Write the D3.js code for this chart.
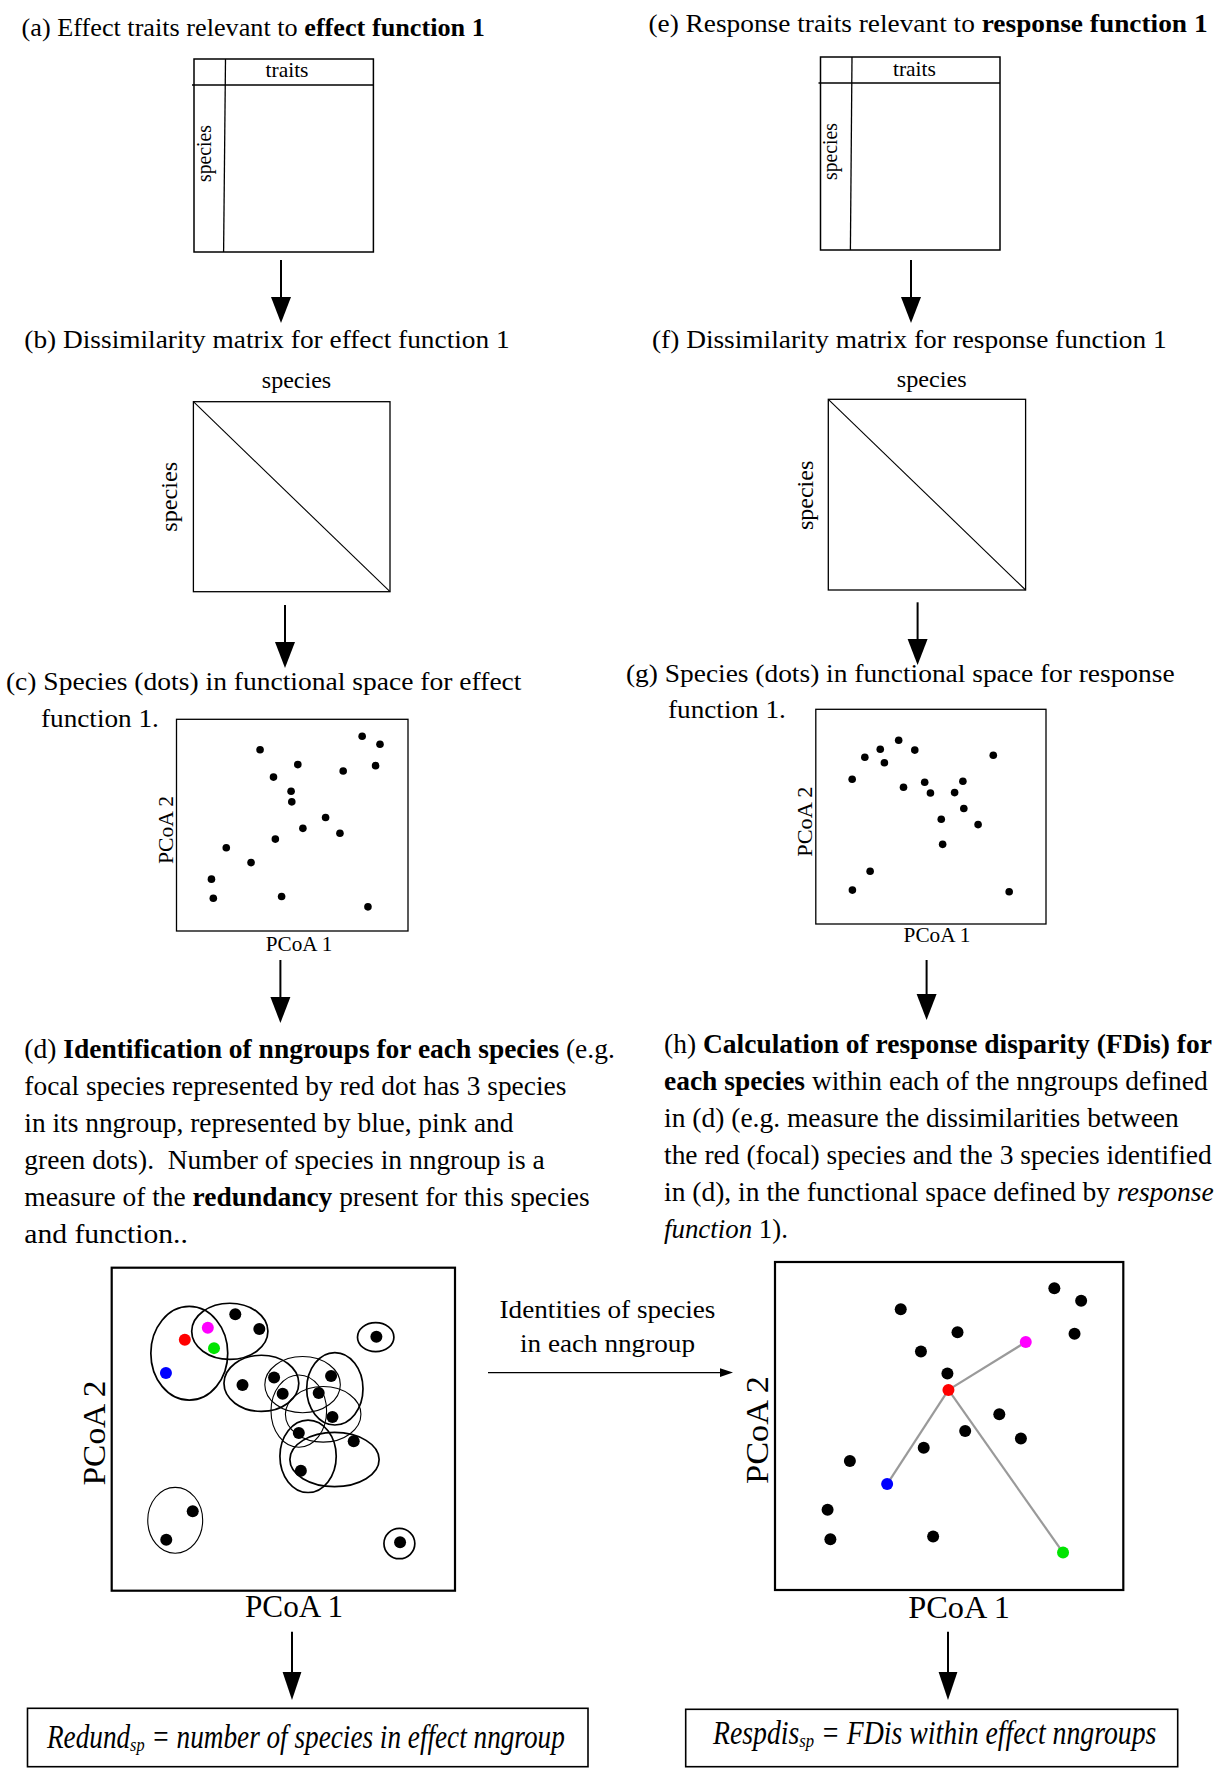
<!DOCTYPE html>
<html>
<head>
<meta charset="utf-8">
<script src="https://cdn.jsdelivr.net/npm/d3@7"></script>
<style>
  html, body { margin: 0; padding: 0; background: #fff; }
  svg { display: block; }
  text { font-family: "Liberation Serif", "Times New Roman", Times, serif; fill: #000; white-space: pre; }
</style>
</head>
<body>
<svg id="fig" width="1231" height="1775"></svg>
<script>
// ---------------------------------------------------------------------------
// Species scores on the first two PCoA axes (19 species, arbitrary 0-10 units)
// Layout A: effect-trait space of panel (c), reused in panel (h)
const pcoaA1 = [3.61, 8.02, 8.79, 5.24, 4.19, 7.20, 8.60, 4.95, 4.98, 6.44, 5.46, 7.06, 4.27, 2.15, 3.22, 1.51, 1.59, 4.54, 8.27];
const pcoaA2 = [8.56, 9.20, 8.82, 7.86, 7.27, 7.56, 7.81, 6.60, 6.10, 5.36, 4.85, 4.62, 4.34, 3.93, 3.23, 2.45, 1.55, 1.63, 1.14];
// Layout B: space of panel (g), reused in panel (d)
const pcoaB1 = [3.60, 2.80, 2.13, 2.98, 4.30, 7.71, 1.58, 3.81, 4.73, 4.98, 6.03, 6.39, 6.43, 5.45, 7.05, 5.51, 2.36, 1.59, 8.40];
const pcoaB2 = [8.56, 8.14, 7.77, 7.51, 8.10, 7.86, 6.74, 6.37, 6.60, 6.10, 6.12, 6.65, 5.38, 4.88, 4.63, 3.71, 2.46, 1.58, 1.50];

// nngroup outlines in (d): centre and semi-axes, in PCoA units
const nnCX = [2.26, 3.44, 7.69, 4.36, 5.56, 6.50, 5.45, 6.16, 5.72, 6.49, 1.85, 8.38];
const nnCY = [7.35, 8.03, 7.85, 6.42, 6.38, 6.25, 5.56, 5.46, 4.16, 4.06, 2.18, 1.46];
const nnRX = [1.12, 1.11, 0.53, 1.09, 1.10, 0.82, 0.81, 1.10, 0.82, 1.30, 0.80, 0.45];
const nnRY = [1.45, 0.87, 0.45, 0.87, 0.87, 1.12, 1.12, 0.86, 1.12, 0.84, 1.02, 0.47];

// Focal species (red) and its nngroup members (pink, green, blue)
const focalD = 2,  membersD = [1, 3, 6];
const focalH = 8,  membersH = [5, 18, 14];
const focalColor = "#ff0000";
const memberColors = ["#ff00ff", "#00e400", "#0000ff"];

// ---------------------------------------------------------------------------
// Text content: each line is a list of [text, style] runs
const titleA = [["(a) Effect traits relevant to ", ""], ["effect function 1", "b"]];
const titleE = [["(e) Response traits relevant to ", ""], ["response function 1", "b"]];
const titleB = [["(b) Dissimilarity matrix for effect function 1", ""]];
const titleF = [["(f) Dissimilarity matrix for response function 1", ""]];
const titleC = [
  [["(c) Species (dots) in functional space for effect", ""]],
  [["function 1.", ""]]
];
const titleG = [
  [["(g) Species (dots) in functional space for response", ""]],
  [["function 1.", ""]]
];
const captionD = [
  [["(d) ", ""], ["Identification of nngroups for each species", "b"], [" (e.g.", ""]],
  [["focal species represented by red dot has 3 species", ""]],
  [["in its nngroup, represented by blue, pink and", ""]],
  [["green dots).  Number of species in nngroup is a", ""]],
  [["measure of the ", ""], ["redundancy", "b"], [" present for this species", ""]],
  [["and function..", ""]]
];
const captionH = [
  [["(h) ", ""], ["Calculation of response disparity (FDis) for", "b"]],
  [["each species", "b"], [" within each of the nngroups defined", ""]],
  [["in (d) (e.g. measure the dissimilarities between", ""]],
  [["the red (focal) species and the 3 species identified", ""]],
  [["in (d), in the functional space defined by ", ""], ["response", "i"]],
  [["function", "i"], [" 1).", ""]]
];
const linkText = ["Identities of species", "in each nngroup"];
const formulaRedund = [["Redund", "i"], ["sp", "sub"], [" = number of species in effect nngroup", "i"]];
const formulaRespdis = [["Respdis", "i"], ["sp", "sub"], [" = FDis within effect nngroups", "i"]];

// ---------------------------------------------------------------------------
const svg = d3.select("#fig");

// Draw a line of mixed-style text, then stretch it horizontally to a given width.
function richLine(runs, x, y, size, width, anchor) {
  const t = svg.append("text").attr("font-size", size);
  let shifted = false;
  runs.forEach(([s, st]) => {
    const ts = t.append("tspan").text(s);
    if (st === "b") ts.attr("font-weight", "bold");
    if (st === "i" || st === "sub") ts.attr("font-style", "italic");
    if (st === "sub") { ts.attr("font-size", size * 0.6).attr("dy", size * 0.08); shifted = true; }
    else if (shifted) { ts.attr("dy", -size * 0.08); shifted = false; }
  });
  const w = t.node().getComputedTextLength();
  const k = width ? width / w : 1;
  const left = anchor === "middle" ? x - (width || w) / 2 : x;
  t.attr("transform", `translate(${left},${y}) scale(${k},1)`);
  return t;
}

// Vertical label reading bottom-to-top, centred on cy, baseline at bx.
function vLabel(str, bx, cy, size, length) {
  const t = svg.append("text").attr("font-size", size).attr("text-anchor", "middle").text(str);
  const w = t.node().getComputedTextLength();
  const k = length ? length / w : 1;
  t.attr("transform", `translate(${bx},${cy}) rotate(-90) scale(${k},1)`);
}

function hLabel(str, cx, by, size, length) {
  const t = svg.append("text").attr("font-size", size).attr("text-anchor", "middle").text(str);
  const w = t.node().getComputedTextLength();
  const k = length ? length / w : 1;
  t.attr("transform", `translate(${cx},${by}) scale(${k},1)`);
}

function arrowDown(x, yTop, yTip, headLen, halfW) {
  svg.append("line")
    .attr("x1", x).attr("x2", x).attr("y1", yTop).attr("y2", yTip - headLen + 1)
    .attr("stroke", "#000").attr("stroke-width", 2);
  svg.append("path")
    .attr("d", `M${x - halfW},${yTip - headLen}L${x + halfW},${yTip - headLen}L${x},${yTip}Z`)
    .attr("fill", "#000");
}

function frame(x0, y0, x1, y1, sw) {
  svg.append("rect")
    .attr("x", x0).attr("y", y0).attr("width", x1 - x0).attr("height", y1 - y0)
    .attr("fill", "none").attr("stroke", "#000").attr("stroke-width", sw);
}

function seg(x1, y1, x2, y2, sw, color) {
  svg.append("line").attr("x1", x1).attr("y1", y1).attr("x2", x2).attr("y2", y2)
    .attr("stroke", color || "#000").attr("stroke-width", sw);
}

// ---------------------------------------------------------------------------
// (a) and (e): species x traits tables
richLine(titleA, 21.6, 36, 25, 463.4);
frame(194, 59, 373.4, 252, 1.5);
seg(192, 85, 373.4, 85, 1.3);
seg(225.5, 59, 223.6, 252, 1.3);
hLabel("traits", 287, 77, 20, 43);
vLabel("species", 210.6, 153.5, 20, 57);
arrowDown(281, 260, 323, 26, 10);

richLine(titleE, 648.4, 32, 25, 559.6);
frame(820.5, 57, 1000, 250, 1.5);
seg(818.5, 83, 1000, 83, 1.3);
seg(852, 57, 850.4, 250, 1.3);
hLabel("traits", 914.4, 76, 20, 43);
vLabel("species", 836.7, 151.5, 20, 57);
arrowDown(911, 260, 323, 26, 10);

// (b) and (f): species x species dissimilarity matrices
richLine(titleB, 24.3, 348, 25, 485.7);
frame(193.4, 401.7, 390, 591.7, 1.3);
seg(193.4, 401.7, 390, 591.7, 1.1);
hLabel("species", 296.5, 388.3, 24, 69.4);
vLabel("species", 176.5, 496.7, 24, 70);
arrowDown(285, 605, 668, 26, 10);

richLine(titleF, 652, 348, 25, 515);
frame(828.3, 399.3, 1025.6, 590, 1.3);
seg(828.3, 399.3, 1025.6, 590, 1.1);
hLabel("species", 931.7, 386.7, 24, 70);
vLabel("species", 812.5, 495.4, 24, 69.3);
arrowDown(917.6, 602.3, 665, 26, 10);

// ---------------------------------------------------------------------------
// Scatter panels
function scatterPanel(box, px, py, r, sw) {
  const x = d3.scaleLinear().domain([0, 10]).range([box.x0, box.x1]);
  const y = d3.scaleLinear().domain([0, 10]).range([box.y1, box.y0]);
  frame(box.x0, box.y0, box.x1, box.y1, sw);
  const pts = d3.range(px.length).map(i => ({ i, pc1: px[i], pc2: py[i] }));
  return { x, y, pts, r };
}

function drawDots(p, colorOf) {
  const ordered = p.pts.slice().sort((a, b) => (colorOf(a.i) !== "#000") - (colorOf(b.i) !== "#000"));
  svg.append("g").selectAll("circle").data(ordered).join("circle")
    .attr("cx", d => p.x(d.pc1)).attr("cy", d => p.y(d.pc2)).attr("r", p.r)
    .attr("fill", d => colorOf(d.i));
}

// (c)
richLine(titleC[0], 5.9, 690, 25, 515.7);
richLine(titleC[1], 41, 726.7, 25, 118);
const pc = scatterPanel({ x0: 176.5, x1: 408, y0: 719.3, y1: 931 }, pcoaA1, pcoaA2, 3.8, 1.3);
drawDots(pc, () => "#000");
vLabel("PCoA 2", 172.5, 830, 21, 68);
hLabel("PCoA 1", 299, 950.7, 21, 66.6);
arrowDown(280.4, 960, 1023, 26, 10);

// (g)
richLine(titleG[0], 626, 681.7, 25, 549);
richLine(titleG[1], 668, 718.3, 25, 118);
const pg = scatterPanel({ x0: 815.8, x1: 1046, y0: 709.3, y1: 924 }, pcoaB1, pcoaB2, 3.8, 1.3);
drawDots(pg, () => "#000");
vLabel("PCoA 2", 811.5, 821.7, 21, 70);
hLabel("PCoA 1", 937, 941.7, 21, 66.8);
arrowDown(926.6, 960, 1020, 26, 10);

// (d) caption and panel with nngroups
const capStartD = 1058, capStepD = 37;
const capEndD = [615, 566.7, 513.8, 545, 590, 188];
captionD.forEach((line, k) => richLine(line, 24.3, capStartD + k * capStepD, 27, capEndD[k] - 24.3));

const pd = scatterPanel({ x0: 111.7, x1: 455, y0: 1267.7, y1: 1590.7 }, pcoaB1, pcoaB2, 6, 2.2);
const colorD = i => i === focalD ? focalColor : (membersD.includes(i) ? memberColors[membersD.indexOf(i)] : "#000");
drawDots(pd, colorD);
const thinGroups = [4, 6, 7, 10];
svg.append("g").selectAll("ellipse").data(d3.range(nnCX.length)).join("ellipse")
  .attr("cx", i => pd.x(nnCX[i])).attr("cy", i => pd.y(nnCY[i]))
  .attr("rx", i => pd.x(nnRX[i]) - pd.x(0)).attr("ry", i => pd.y(0) - pd.y(nnRY[i]))
  .attr("fill", "none").attr("stroke", "#000")
  .attr("stroke-width", i => thinGroups.includes(i) ? 1.1 : 1.7);
vLabel("PCoA 2", 105, 1433, 32, 105);
hLabel("PCoA 1", 294, 1616.7, 32, 98);
arrowDown(292, 1631.7, 1700, 28, 9.4);

// (h) caption and panel with distances to the focal species
const capStartH = 1053.3, capStepH = 36.9;
const capEndH = [1212, 1208, 1179, 1212, 1214, 788];
captionH.forEach((line, k) => richLine(line, 664, capStartH + k * capStepH, 27, capEndH[k] - 664));

const ph = scatterPanel({ x0: 775, x1: 1123.3, y0: 1262, y1: 1590 }, pcoaA1, pcoaA2, 6, 2.2);
svg.append("g").selectAll("line").data(membersH).join("line")
  .attr("x1", ph.x(pcoaA1[focalH])).attr("y1", ph.y(pcoaA2[focalH]))
  .attr("x2", i => ph.x(pcoaA1[i])).attr("y2", i => ph.y(pcoaA2[i]))
  .attr("stroke", "#9a9a9a").attr("stroke-width", 2.2);
const colorH = i => i === focalH ? focalColor : (membersH.includes(i) ? memberColors[membersH.indexOf(i)] : "#000");
drawDots(ph, colorH);
vLabel("PCoA 2", 768.3, 1430, 32, 108);
hLabel("PCoA 1", 959, 1618, 32, 101.7);
arrowDown(948, 1631.7, 1700, 28, 9.4);

// link between (d) and (h)
hLabel(linkText[0], 607.5, 1318, 25, 216);
hLabel(linkText[1], 607.5, 1352, 25, 175);
seg(488, 1372.6, 722, 1372.6, 1.3);
svg.append("path").attr("d", "M720,1368.3L733,1372.6L720,1376.9Z").attr("fill", "#000");

// Outcome boxes
frame(27.5, 1708.3, 588, 1766.7, 1.6);
richLine(formulaRedund, 47, 1748.3, 33, 518);
frame(685.7, 1709.3, 1177.7, 1766.7, 1.6);
richLine(formulaRespdis, 713, 1744, 33, 443.5);
</script>
</body>
</html>
